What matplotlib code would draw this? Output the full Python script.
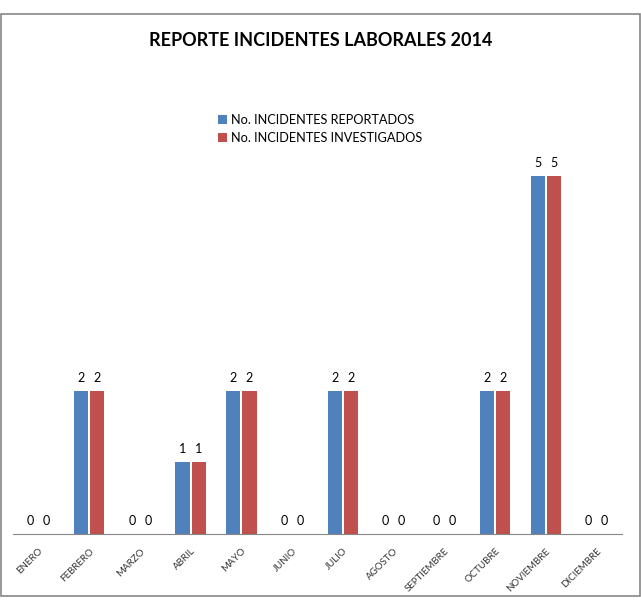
import matplotlib.pyplot as plt
import numpy as np
from matplotlib.patches import Rectangle

meses = ["ENERO", "FEBRERO", "MARZO", "ABRIL", "MAYO", "JUNIO", "JULIO",
         "AGOSTO", "SEPTIEMBRE", "OCTUBRE", "NOVIEMBRE", "DICIEMBRE"]
reportados = [0, 2, 0, 1, 2, 0, 2, 0, 0, 2, 5, 0]
investigados = [0, 2, 0, 1, 2, 0, 2, 0, 0, 2, 5, 0]

plt.rcParams["font.family"] = ["Lato", "DejaVu Sans"]

fig = plt.figure(figsize=(6.41, 6), dpi=100)
ax = fig.add_axes([0.0203, 0.11, 0.9500, 0.717])

x = np.arange(len(meses))
w = 0.28
b1 = ax.bar(x - w / 2 - 0.02, reportados, w, color="#4F81BD", label="No. INCIDENTES REPORTADOS")
b2 = ax.bar(x + w / 2 + 0.02, investigados, w, color="#C0504D", label="No. INCIDENTES INVESTIGADOS")
ax.bar_label(b1, padding=5, fontsize=9)
ax.bar_label(b2, padding=5, fontsize=9)

ax.set_xlim(-0.5, len(meses) - 0.5)
ax.set_ylim(0, 6)
ax.set_yticks([])
ax.set_xticks(x)
ax.set_xticklabels(meses, rotation=45, ha="right", rotation_mode="anchor", fontsize=7, color="#333333")
ax.tick_params(axis="x", length=0, pad=9)
for s in ["top", "right", "left"]:
    ax.spines[s].set_visible(False)
ax.spines["bottom"].set_color("#868686")

fig.text(0.5, 0.932, "REPORTE INCIDENTES LABORALES 2014", ha="center", va="center",
         fontsize=13, fontweight="bold")
fig.legend(loc="center", bbox_to_anchor=(0.5, 0.785), frameon=False, fontsize=9.2,
           handlelength=0.7, handleheight=0.7, handletextpad=0.3, labelspacing=0.45)

fig.patches.append(Rectangle((0.001, 0.007), 0.997, 0.97, transform=fig.transFigure,
                             fill=False, edgecolor="#868686", linewidth=1.2))
fig.savefig("out.png", dpi=100)
